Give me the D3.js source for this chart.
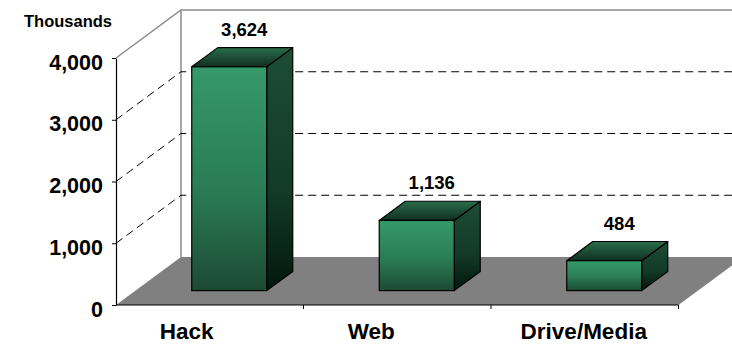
<!DOCTYPE html>
<html>
<head>
<meta charset="utf-8">
<script src="https://cdn.jsdelivr.net/npm/d3@7/dist/d3.min.js"></script>
<style>
  html, body { margin: 0; padding: 0; background: #fff; }
  svg { display: block; font-family: "Liberation Sans", Arial, sans-serif; font-weight: bold; }
</style>
</head>
<body>
<svg id="chart" width="732" height="344"></svg>
<script>
// Incidents by source, in thousands
const categories = ["Hack", "Web", "Drive/Media"];
const values = [3624, 1136, 484];
const valueLabels = ["3,624", "1,136", "484"];
const tickValues = [0, 1000, 2000, 3000, 4000];
const tickLabels = ["0", "1,000", "2,000", "3,000", "4,000"];
const unitLabel = "Thousands";

(function () {
const svg = d3.select("#chart");

// Front plane of the 3D box and its depth offset
const plotLeft = 116, plotRight = 678.5, plotBase = 305, plotTop = 58;
const depthX = 65, depthY = -48;
const barFront = 0.3, barBack = 0.7;   // bar depth as a share of the box depth
const labelShift = [-23, -26, -1];     // category label nudges

const x = d3.scaleBand().domain(categories).range([plotLeft, plotRight])
  .paddingInner(0.6).paddingOuter(0.3);
const y = d3.scaleLinear().domain([0, 4000]).range([plotBase, plotTop]);

const defs = svg.append("defs");
function vGrad(id, stops) {
  const g = defs.append("linearGradient").attr("id", id)
    .attr("x1", 0).attr("y1", 0).attr("x2", 0).attr("y2", 1);
  stops.forEach(([o, c]) => g.append("stop").attr("offset", o).attr("stop-color", c));
}
vGrad("gFront", [[0, "#35996a"], [0.55, "#2a7c55"], [1, "#1c4a33"]]);
vGrad("gSide", [[0, "#1d4d36"], [0.6, "#123a27"], [1, "#02170d"]]);
vGrad("gTop", [[0, "#2a6e4b"], [1, "#112f21"]]);

const pts = a => a.map(p => p.join(",")).join(" ");
const line = d3.line();

// Floor
svg.append("polygon")
  .attr("points", pts([[plotLeft, plotBase], [plotRight, plotBase],
    [plotRight + depthX, plotBase + depthY], [plotLeft + depthX, plotBase + depthY]]))
  .attr("fill", "#808080");

// Walls outline
const backX = plotLeft + depthX;
svg.append("path").attr("d", line([[plotLeft, y(4000)], [backX, y(4000) + depthY], [732, y(4000) + depthY]]))
  .attr("fill", "none").attr("stroke", "#8a8a8a").attr("stroke-width", 1.5);
svg.append("path").attr("d", line([[backX, y(4000) + depthY], [backX, plotBase + depthY]]))
  .attr("fill", "none").attr("stroke", "#8a8a8a").attr("stroke-width", 1.5);

// Dashed gridlines across the side and back walls
const gridVals = tickValues.filter(v => v > 0 && v < 4000);
svg.append("g").selectAll("path").data(gridVals).join("path")
  .attr("d", v => line([[plotLeft, y(v)], [backX, y(v) + depthY], [732, y(v) + depthY]]))
  .attr("fill", "none").attr("stroke", "#000").attr("stroke-width", 1)
  .attr("stroke-dasharray", "8,5");

// 3D bars
const bdx0 = depthX * barFront, bdy0 = depthY * barFront;
const bdx = depthX * (barBack - barFront), bdy = depthY * (barBack - barFront);
const bars = svg.append("g").selectAll("g").data(categories.map((c, i) => ({ c, v: values[i], i })))
  .join("g");
bars.each(function (d) {
  const g = d3.select(this);
  const x0 = x(d.c) + bdx0, x1 = x0 + x.bandwidth();
  const yb = y(0) + bdy0, yt = y(d.v) + bdy0;
  g.append("polygon").attr("points", pts([[x1, yt], [x1 + bdx, yt + bdy], [x1 + bdx, yb + bdy], [x1, yb]]))
    .attr("fill", "url(#gSide)").attr("stroke", "#000").attr("stroke-width", 1.2).attr("stroke-linejoin", "round");
  g.append("polygon").attr("points", pts([[x0, yt], [x1, yt], [x1 + bdx, yt + bdy], [x0 + bdx, yt + bdy]]))
    .attr("fill", "url(#gTop)").attr("stroke", "#000").attr("stroke-width", 1.2).attr("stroke-linejoin", "round");
  g.append("rect").attr("x", x0).attr("y", yt).attr("width", x1 - x0).attr("height", yb - yt)
    .attr("fill", "url(#gFront)").attr("stroke", "#000").attr("stroke-width", 1.2);
  g.append("text").attr("x", x0 + x.bandwidth() / 2 + bdx / 2 + 2).attr("y", yt + bdy - 12)
    .attr("text-anchor", "middle").attr("font-size", 18.5).attr("fill", "#000")
    .text(valueLabels[d.i]);
});

// Value axis
const yAxis = d3.axisLeft(y).tickValues(tickValues).tickFormat((d, i) => tickLabels[i])
  .tickSize(4).tickSizeOuter(0).tickPadding(9);
const yg = svg.append("g").attr("transform", `translate(${plotLeft},0)`).call(yAxis);
yg.select(".domain").attr("stroke", "#000").attr("stroke-width", 1.2);
yg.selectAll(".tick line").attr("stroke", "#000");
yg.selectAll(".tick text").attr("font-size", 21.5).attr("font-family", "Liberation Sans, Arial, sans-serif")
  .attr("font-weight", "bold").attr("fill", "#000").attr("dy", "0.52em");

// Category axis
const bounds = d3.range(categories.length + 1).map(i => plotLeft + i * x.step());
svg.append("line").attr("x1", plotLeft).attr("x2", plotRight).attr("y1", plotBase).attr("y2", plotBase)
  .attr("stroke", "#000").attr("stroke-width", 1.2);
svg.append("g").selectAll("line").data(bounds.slice(1)).join("line")
  .attr("x1", d => d).attr("x2", d => d).attr("y1", plotBase).attr("y2", plotBase + 4)
  .attr("stroke", "#000").attr("stroke-width", 1);
svg.append("g").selectAll("text").data(categories).join("text")
  .attr("x", (d, i) => x(d) + x.bandwidth() / 2 + labelShift[i])
  .attr("y", 339).attr("text-anchor", "middle").attr("font-size", 22.5).attr("fill", "#000")
  .text(d => d);

// Unit label
svg.append("text").attr("x", 68).attr("y", 27).attr("text-anchor", "middle")
  .attr("font-size", 16.5).attr("fill", "#000").text(unitLabel);
})();
</script>
</body>
</html>
